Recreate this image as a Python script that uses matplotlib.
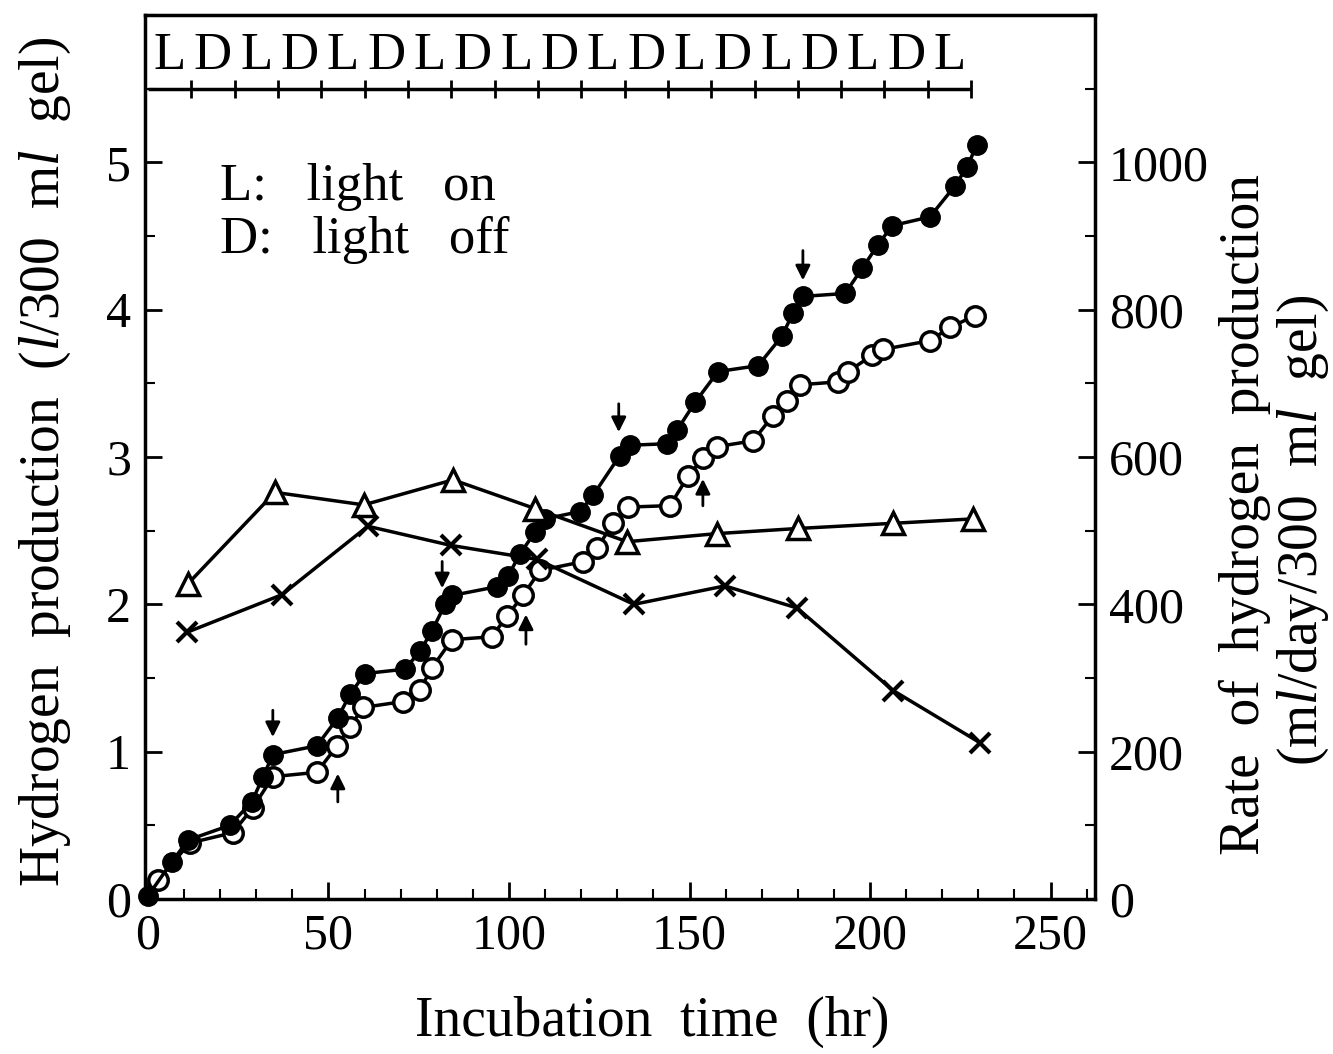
import matplotlib
matplotlib.use('Agg')
import matplotlib.pyplot as plt
from matplotlib.ticker import MultipleLocator

plt.rcParams['font.family'] = 'Liberation Serif'
plt.rcParams['mathtext.fontset'] = 'custom'
plt.rcParams['mathtext.rm'] = 'Liberation Serif'
plt.rcParams['mathtext.it'] = 'Liberation Serif:italic'

# cumulative H2, closed circles (l/300 ml gel)
t_closed = [0, 6.6, 11.1, 22.7, 28.8, 31.9, 34.6, 46.8, 52.6, 56.0, 60.1, 71.2, 75.3,
            78.7, 82.3, 84.2, 96.7, 99.7, 103.0, 107.2, 110.0, 119.7, 123.3, 130.7,
            133.5, 143.8, 146.5, 151.5, 157.9, 169.0, 175.6, 178.7, 181.4, 193.1,
            197.8, 202.2, 206.1, 216.6, 223.5, 226.9, 229.6]
h_closed = [0.02, 0.25, 0.40, 0.50, 0.66, 0.83, 0.98, 1.04, 1.23, 1.39, 1.53, 1.56, 1.68,
            1.82, 2.00, 2.06, 2.12, 2.19, 2.34, 2.49, 2.58, 2.63, 2.74, 3.01,
            3.08, 3.09, 3.18, 3.37, 3.58, 3.62, 3.82, 3.98, 4.09, 4.11,
            4.28, 4.44, 4.57, 4.63, 4.84, 4.97, 5.12]

# cumulative H2, open circles
t_open = [2.8, 11.6, 23.5, 29.1, 34.6, 46.8, 52.4, 56.0, 59.6, 70.6, 75.3, 78.7, 84.2,
          95.3, 99.4, 103.9, 108.6, 120.5, 124.4, 128.8, 133.0, 144.6, 149.6, 153.7,
          157.6, 167.6, 173.1, 177.0, 180.6, 191.1, 193.9, 200.6, 203.6, 216.6,
          222.2, 229.1]
h_open = [0.13, 0.38, 0.45, 0.62, 0.83, 0.86, 1.04, 1.17, 1.30, 1.34, 1.42, 1.57, 1.76,
          1.78, 1.92, 2.06, 2.23, 2.29, 2.38, 2.55, 2.66, 2.67, 2.87, 2.99,
          3.07, 3.11, 3.28, 3.38, 3.49, 3.51, 3.58, 3.69, 3.73, 3.79,
          3.88, 3.96]

# rate of production (ml/day/300 ml gel)
t_tri = [11.1, 35.2, 59.8, 84.5, 107.2, 132.7, 157.6, 180.1, 206.4, 228.5]
r_tri = [428, 552, 535, 569, 530, 485, 496, 503, 510, 516]

t_cross = [10.8, 37.1, 60.9, 83.9, 107.8, 134.6, 159.8, 179.8, 206.4, 230.5]
r_cross = [362, 413, 506, 480, 461, 400, 425, 395, 283, 212]

# arrows (time, tail, head)
down_t = [34.6, 81.5, 130.4, 181.4]
down_tail = [1.30, 2.31, 3.38, 4.42]
down_head = [1.08, 2.09, 3.15, 4.18]
up_t = [52.6, 104.7, 153.7]
up_tail = [0.64, 1.71, 2.65]
up_head = [0.87, 1.95, 2.87]

# light/dark periods, 12 hr each
period = 12
letters = ['L', 'D'] * 9 + ['L']

fig = plt.figure(figsize=(13.33, 10.54), dpi=100)
ax = fig.add_axes([145/1333, 155/1054, 950/1333, 884/1054])

ax.plot(t_open, h_open, 'o-', color='black', mfc='white', mec='black', mew=2.5,
        ms=14, lw=2.5, zorder=3)
ax.plot(t_closed, h_closed, 'o-', color='black', ms=14, lw=2.5, zorder=4, clip_on=False)

for t, a, b in zip(down_t, down_tail, down_head):
    ax.annotate('', xy=(t, b), xytext=(t, a),
                arrowprops=dict(arrowstyle='-|>', color='black', lw=2, mutation_scale=22))
for t, a, b in zip(up_t, up_tail, up_head):
    ax.annotate('', xy=(t, b), xytext=(t, a),
                arrowprops=dict(arrowstyle='-|>', color='black', lw=2, mutation_scale=22))

# L/D strip at the top
end_t = period * len(letters)
ax.hlines(5.5, 0, end_t, color='black', lw=2.5)
bounds = [period * i for i in range(1, len(letters) + 1)]
ax.vlines(bounds, 5.44, 5.56, color='black', lw=2)
for i, c in enumerate(letters):
    ax.text(period * i + period / 2, 5.56, c, ha='center', va='bottom', fontsize=38)

ax.text(20, 4.83, 'L:   light   on', fontsize=38, va='center')
ax.text(20, 4.47, 'D:   light   off', fontsize=38, va='center')

ax.set_xlim(-0.8, 262.3)
ax.set_ylim(0, 6.0)
ax.xaxis.set_major_locator(MultipleLocator(50))
ax.xaxis.set_minor_locator(MultipleLocator(10))
ax.yaxis.set_major_locator(MultipleLocator(1))
ax.yaxis.set_minor_locator(MultipleLocator(0.5))
ax.set_yticks([0, 1, 2, 3, 4, 5])
ax.tick_params(which='major', direction='in', length=12, width=2, labelsize=36, pad=10)
ax.tick_params(which='minor', direction='in', length=7, width=1.5)
ax.tick_params(right=False, top=False, which='both')
for s in ax.spines.values():
    s.set_linewidth(2.5)

ax2 = ax.twinx()
ax2.plot(t_tri, r_tri, '^-', color='black', mfc='white', mec='black', mew=2.5,
         ms=16, lw=2.5)
ax2.plot(t_cross, r_cross, 'x-', color='black', mew=3, ms=15, lw=2.5)
ax2.set_ylim(0, 1200)
ax2.set_yticks([0, 200, 400, 600, 800, 1000])
ax2.yaxis.set_minor_locator(MultipleLocator(100))
ax2.tick_params(which='major', direction='in', length=12, width=2, labelsize=36, pad=10)
ax2.tick_params(which='minor', direction='in', length=7, width=1.5)

fig.text(652/1333, 1 - 1022/1054, 'Incubation  time  (hr)', fontsize=40,
         ha='center', va='center')
fig.text(45/1333, 1 - 462/1054, r'Hydrogen  production  ($\mathit{l}$/300  m$\mathit{l}$  gel)',
         rotation=90, fontsize=40, ha='center', va='center')
fig.text(1245/1333, 1 - 515/1054, 'Rate  of  hydrogen  production',
         rotation=90, fontsize=40, ha='center', va='center')
fig.text(1303/1333, 1 - 530/1054, r'(m$\mathit{l}$/day/300  m$\mathit{l}$  gel)',
         rotation=90, fontsize=40, ha='center', va='center')

fig.savefig('out.png', dpi=100)
